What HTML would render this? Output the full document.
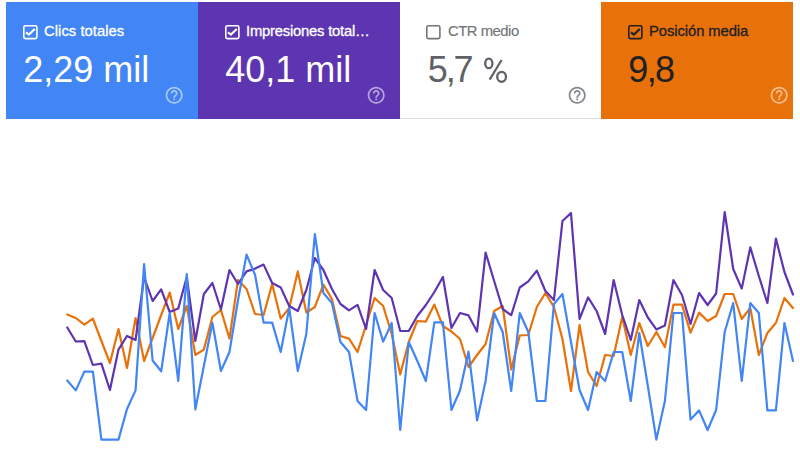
<!DOCTYPE html><html><head><meta charset="utf-8"><style>
html,body{margin:0;padding:0;background:#fff;width:800px;height:450px;overflow:hidden;position:relative;font-family:"Liberation Sans",sans-serif}
.card{position:absolute;top:2px;height:117px}
.cb{position:absolute;top:24.8px;line-height:0}
.lab{position:absolute;top:23.2px;-webkit-text-stroke:0.3px currentColor;font-size:14.8px;line-height:17px;white-space:nowrap}
.val{position:absolute;top:50.4px;font-size:36px;line-height:40px;white-space:nowrap}
.help{position:absolute;top:85.0px;line-height:0}
</style></head><body>

<div class="card" style="left:6px;width:192px;background:#4285f4"></div>
<div class="cb" style="left:23px"><svg width="15" height="15" viewBox="0 0 15 15"><rect x="0.8" y="0.8" width="13.1" height="12.8" rx="1.6" fill="none" stroke="#ffffff" stroke-width="1.6"/><path d="M3.0 7.4 L5.9 9.6 L11.8 3.9" fill="none" stroke="#ffffff" stroke-width="2.1"/></svg></div>
<div class="lab" style="left:44px;color:#ffffff;letter-spacing:0.04px">Clics totales</div>
<div class="val" style="left:23.3px;color:#ffffff;letter-spacing:0px">2,29 mil</div>
<div class="help" style="left:164.3px"><svg width="20.4" height="20.4" viewBox="0 0 24 24"><path fill="rgba(255,255,255,0.55)" d="M11 18h2v-2h-2v2zm1-16C6.48 2 2 6.48 2 12s4.48 10 10 10 10-4.48 10-10S17.52 2 12 2zm0 18c-4.41 0-8-3.59-8-8s3.59-8 8-8 8 3.59 8 8-3.59 8-8 8zm0-14c-2.21 0-4 1.790-4 4h2c0-1.1.9-2 2-2s2 .9 2 2c0 2-3 1.75-3 5h2c0-2.25 3-2.5 3-5 0-2.210-1.79-4-4-4z"/></svg></div>
<div class="card" style="left:198px;width:202px;background:#5e35b1"></div>
<div class="cb" style="left:225px"><svg width="15" height="15" viewBox="0 0 15 15"><rect x="0.8" y="0.8" width="13.1" height="12.8" rx="1.6" fill="none" stroke="#ffffff" stroke-width="1.6"/><path d="M3.0 7.4 L5.9 9.6 L11.8 3.9" fill="none" stroke="#ffffff" stroke-width="2.1"/></svg></div>
<div class="lab" style="left:246px;color:#ffffff;letter-spacing:-0.21px">Impresiones total…</div>
<div class="val" style="left:225.3px;color:#ffffff;letter-spacing:0px">40,1 mil</div>
<div class="help" style="left:366.3px"><svg width="20.4" height="20.4" viewBox="0 0 24 24"><path fill="rgba(255,255,255,0.55)" d="M11 18h2v-2h-2v2zm1-16C6.48 2 2 6.48 2 12s4.48 10 10 10 10-4.48 10-10S17.52 2 12 2zm0 18c-4.41 0-8-3.59-8-8s3.59-8 8-8 8 3.59 8 8-3.59 8-8 8zm0-14c-2.21 0-4 1.790-4 4h2c0-1.1.9-2 2-2s2 .9 2 2c0 2-3 1.75-3 5h2c0-2.25 3-2.5 3-5 0-2.210-1.79-4-4-4z"/></svg></div>
<div class="card" style="left:400px;width:201px;background:#ffffff"></div>
<div style="position:absolute;left:400px;width:201px;top:118px;height:1px;background:#e0e0e0"></div>
<div class="cb" style="left:426px"><svg width="15" height="15" viewBox="0 0 15 15"><rect x="0.8" y="0.8" width="13.1" height="12.8" rx="1.6" fill="none" stroke="#757575" stroke-width="1.6"/></svg></div>
<div class="lab" style="left:448px;color:#70757a;-webkit-text-stroke:0.15px #70757a;letter-spacing:-0.46px">CTR medio</div>
<div class="val" style="left:427.8px;color:#5f6368;letter-spacing:-2.1px">5,7</div>
<svg style="position:absolute;left:480px;top:52px" width="32" height="36" viewBox="480 52 32 36"><ellipse cx="488.8" cy="63.4" rx="3.6" ry="4.8" fill="none" stroke="#5f6368" stroke-width="2.3"/><ellipse cx="501.6" cy="76.8" rx="4.4" ry="5.0" fill="none" stroke="#5f6368" stroke-width="2.3"/><path d="M489.6 79.6 L501.6 60" stroke="#5f6368" stroke-width="2.2" fill="none"/></svg>
<div class="help" style="left:567.3px"><svg width="20.4" height="20.4" viewBox="0 0 24 24"><path fill="#80868b" d="M11 18h2v-2h-2v2zm1-16C6.48 2 2 6.48 2 12s4.48 10 10 10 10-4.48 10-10S17.52 2 12 2zm0 18c-4.41 0-8-3.59-8-8s3.59-8 8-8 8 3.59 8 8-3.59 8-8 8zm0-14c-2.21 0-4 1.790-4 4h2c0-1.1.9-2 2-2s2 .9 2 2c0 2-3 1.75-3 5h2c0-2.25 3-2.5 3-5 0-2.210-1.79-4-4-4z"/></svg></div>
<div class="card" style="left:601px;width:192px;background:#e8710a"></div>
<div class="cb" style="left:628px"><svg width="15" height="15" viewBox="0 0 15 15"><rect x="0.8" y="0.8" width="13.1" height="12.8" rx="1.6" fill="none" stroke="#202124" stroke-width="1.6"/><path d="M3.0 7.4 L5.9 9.6 L11.8 3.9" fill="none" stroke="#202124" stroke-width="2.1"/></svg></div>
<div class="lab" style="left:649px;color:#202124;letter-spacing:-0.08px">Posición media</div>
<div class="val" style="left:628.3px;color:#202124;letter-spacing:-1.6px">9,8</div>
<div class="help" style="left:769.3px"><svg width="20.4" height="20.4" viewBox="0 0 24 24"><path fill="rgba(255,255,255,0.55)" d="M11 18h2v-2h-2v2zm1-16C6.48 2 2 6.48 2 12s4.48 10 10 10 10-4.48 10-10S17.52 2 12 2zm0 18c-4.41 0-8-3.59-8-8s3.59-8 8-8 8 3.59 8 8-3.59 8-8 8zm0-14c-2.21 0-4 1.790-4 4h2c0-1.1.9-2 2-2s2 .9 2 2c0 2-3 1.75-3 5h2c0-2.25 3-2.5 3-5 0-2.210-1.79-4-4-4z"/></svg></div>
<svg style="position:absolute;left:0;top:0" width="800" height="450" viewBox="0 0 800 450">
<polyline points="67.25,314.4 75.79,318.0 84.33,324.7 92.86,318.6 101.40,341.0 109.94,363.0 118.48,329.0 127.02,368.0 135.55,318.0 144.09,361.0 152.63,338.0 161.17,315.0 169.71,292.6 178.24,329.0 186.78,306.0 195.32,355.0 203.86,349.6 212.40,317.0 220.93,310.0 229.47,338.6 238.01,280.0 246.55,289.0 255.09,314.0 263.62,315.0 272.16,284.0 280.70,318.6 289.24,308.0 297.78,271.4 306.31,312.5 314.85,307.0 323.39,284.6 331.93,299.0 340.47,336.0 349.00,338.6 357.54,352.0 366.08,325.0 374.62,298.0 383.16,306.0 391.69,334.0 400.23,374.4 408.77,342.0 417.31,321.0 425.85,321.6 434.38,304.6 442.92,326.0 451.46,331.5 460.00,339.0 468.54,367.0 477.07,355.0 485.61,344.0 494.15,311.0 502.69,306.0 511.23,369.5 519.76,335.5 528.30,335.0 536.84,307.0 545.38,293.0 553.92,307.0 562.45,339.0 570.99,391.0 579.53,325.0 588.07,372.0 596.61,386.0 605.14,355.0 613.68,356.0 622.22,317.0 630.76,355.0 639.30,323.0 647.83,346.0 656.37,332.0 664.91,347.0 673.45,304.6 681.99,304.6 690.52,332.6 699.06,312.6 707.60,321.0 716.14,316.0 724.68,294.0 733.21,294.0 741.75,319.0 750.29,308.0 758.83,355.0 767.37,333.0 775.90,323.0 784.44,298.0 792.98,308.0" fill="none" stroke="#e8710a" stroke-width="2.2" stroke-linejoin="round" stroke-linecap="round"/>
<polyline points="67.25,327.5 75.79,341.5 84.33,341.2 92.86,365.0 101.40,363.6 109.94,390.0 118.48,349.6 127.02,336.0 135.55,340.0 144.09,277.0 152.63,301.0 161.17,289.4 169.71,312.0 178.24,308.6 186.78,277.0 195.32,341.0 203.86,294.0 212.40,283.0 220.93,309.5 229.47,270.0 238.01,284.0 246.55,271.4 255.09,268.6 263.62,264.6 272.16,283.0 280.70,287.4 289.24,306.0 297.78,311.0 306.31,290.0 314.85,258.0 323.39,270.0 331.93,289.0 340.47,304.0 349.00,310.3 357.54,304.8 366.08,329.0 374.62,270.0 383.16,290.0 391.69,298.0 400.23,331.0 408.77,331.0 417.31,316.0 425.85,305.0 434.38,292.0 442.92,277.0 451.46,328.0 460.00,313.0 468.54,315.4 477.07,331.5 485.61,252.6 494.15,281.0 502.69,309.0 511.23,315.2 519.76,287.5 528.30,281.4 536.84,270.6 545.38,291.0 553.92,300.0 562.45,221.0 570.99,213.0 579.53,319.0 588.07,297.4 596.61,311.0 605.14,334.0 613.68,280.0 622.22,315.0 630.76,340.0 639.30,300.0 647.83,317.5 656.37,329.4 664.91,325.5 673.45,280.0 681.99,295.0 690.52,324.0 699.06,293.0 707.60,305.0 716.14,293.5 724.68,212.0 733.21,269.0 741.75,288.6 750.29,247.4 758.83,276.0 767.37,303.0 775.90,238.6 784.44,272.0 792.98,294.5" fill="none" stroke="#5e35b1" stroke-width="2.2" stroke-linejoin="round" stroke-linecap="round"/>
<polyline points="67.25,380.5 75.79,390.4 84.33,371.6 92.86,371.6 101.40,439.6 109.94,439.6 118.48,439.6 127.02,409.0 135.55,390.4 144.09,264.0 152.63,360.5 161.17,371.3 169.71,313.0 178.24,381.0 186.78,274.0 195.32,409.5 203.86,366.0 212.40,322.8 220.93,371.0 229.47,352.0 238.01,300.0 246.55,254.6 255.09,275.0 263.62,322.6 272.16,322.6 280.70,352.0 289.24,308.0 297.78,371.0 306.31,334.0 314.85,234.0 323.39,293.0 331.93,303.0 340.47,342.0 349.00,352.0 357.54,401.0 366.08,410.0 374.62,313.0 383.16,341.6 391.69,323.0 400.23,430.0 408.77,342.0 417.31,361.0 425.85,381.0 434.38,322.4 442.92,322.4 451.46,410.0 460.00,390.5 468.54,351.6 477.07,420.4 485.61,381.0 494.15,313.0 502.69,332.0 511.23,391.0 519.76,313.0 528.30,332.0 536.84,401.0 545.38,401.0 553.92,304.0 562.45,294.0 570.99,342.0 579.53,390.0 588.07,410.0 596.61,372.0 605.14,381.0 613.68,352.0 622.22,352.0 630.76,401.0 639.30,333.0 647.83,386.0 656.37,439.6 664.91,401.0 673.45,313.0 681.99,313.0 690.52,419.6 699.06,410.4 707.60,430.0 716.14,410.0 724.68,332.0 733.21,303.0 741.75,381.0 750.29,303.0 758.83,313.0 767.37,410.4 775.90,410.4 784.44,323.0 792.98,361.0" fill="none" stroke="#4285f4" stroke-width="2.2" stroke-linejoin="round" stroke-linecap="round"/>
</svg>
</body></html>
